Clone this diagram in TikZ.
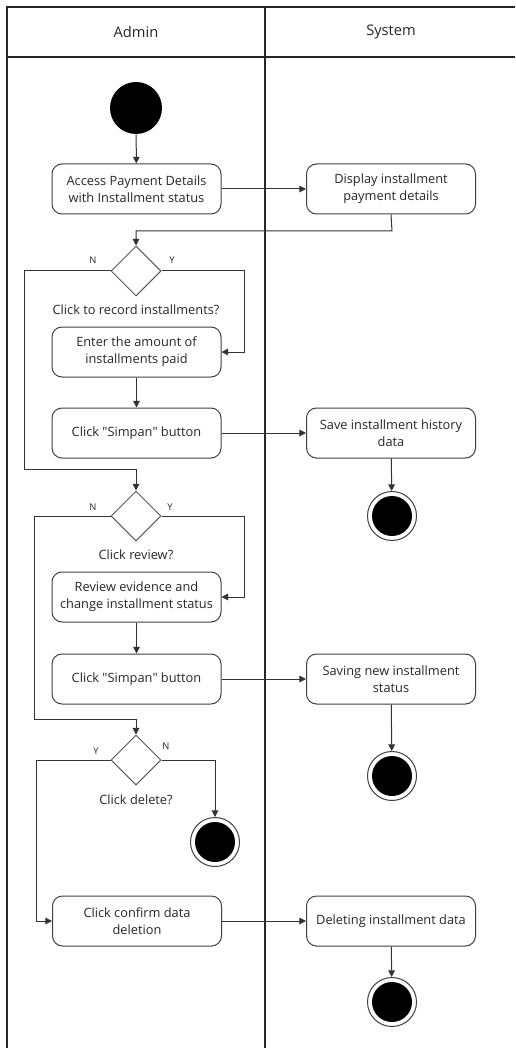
\documentclass[tikz,border=0pt]{standalone}
\usepackage{fontspec}
\setmainfont{Open Sans}
\usetikzlibrary{arrows.meta,shapes.geometric}
\begin{document}
\begin{tikzpicture}[x=0.75pt,y=-0.75pt,
 act/.style={draw=black!75, rounded corners=7.5pt, minimum width=126.75pt, minimum height=37.5pt, align=center, font=\fontsize{9.6}{12.75}\selectfont, text=black!85, inner sep=1pt, line width=0.75pt},
 dec/.style={diamond, draw=black!65, minimum width=37.5pt, minimum height=37.5pt, inner sep=0pt, line width=0.75pt},
 startst/.style={circle, fill=black, minimum size=39pt, inner sep=0pt},
 endst/.style={circle, draw=black!75, fill=white, minimum size=36.75pt, inner sep=0pt, line width=0.75pt, path picture={\fill[black] (path picture bounding box.center) circle (15pt);}},
 flow/.style={draw=black!80, line width=0.75pt, -{Triangle[length=5pt,width=5pt]}},
 lbl/.style={font=\fontsize{9.6}{12}\selectfont, text=black!85, inner sep=0pt},
 yn/.style={font=\fontsize{7}{8}\selectfont, text=black!85, inner sep=0pt},
 lane/.style={draw=black!85, line width=1.1pt},
 head/.style={font=\fontsize{11}{13}\selectfont, text=black!85}
]
\useasboundingbox (0,0) rectangle (515,1048);
% swimlanes
\draw[lane] (7,1048) -- (7,7) -- (515,7);
\draw[lane] (7,57) -- (515,57);
\draw[lane] (265,7) -- (265,1048);
\node[head] (hA) at (136,32) {Admin};
\node[head] (hS) at (391,32) {System};

% nodes
\node[startst] (st) at (136,108) {};
\node[act] (b1) at (136.5,189) {Access Payment Details\\with Installment status};
\node[act] (b2) at (391,189) {Display installment\\payment details};
\node[dec] (d1) at (136,271) {};
\node[lbl] (l1) at (136,310) {Click to record installments?};
\node[act] (b3) at (136.5,352) {Enter the amount of\\installments paid};
\node[act] (b4) at (136.5,433) {Click \textquotedbl Simpan\textquotedbl{} button};
\node[act] (b5s) at (391,433) {Save installment history\\data};
\node[endst] (e1) at (392,516) {};
\node[dec] (d2) at (136,516) {};
\node[lbl] (l2) at (136,555) {Click review?};
\node[act] (b5) at (136.5,597) {Review evidence and\\change installment status};
\node[act] (b6) at (136.5,679) {Click \textquotedbl Simpan\textquotedbl{} button};
\node[act] (b6s) at (391,679) {Saving new installment\\status};
\node[endst] (e2) at (392,776) {};
\node[dec] (d3) at (136,760) {};
\node[lbl] (l3) at (136,800) {Click delete?};
\node[endst] (e3) at (215,842) {};
\node[act] (b7) at (137,921) {Click confirm data\\deletion};
\node[act] (b7s) at (391,921) {Deleting installment data};
\node[endst] (e4) at (392,1002) {};

% labels
\node[yn] (n1l) at (93,260) {N};
\node[yn] (y1l) at (172,260) {Y};
\node[yn] (n2l) at (93,507) {N};
\node[yn] (y2l) at (170,507) {Y};
\node[yn] (y3l) at (96,751) {Y};
\node[yn] (n3l) at (166,746) {N};

% helper coordinates
\coordinate (c1) at (392,231);
\coordinate (n1) at (24,469);
\coordinate (y1) at (244,352);
\coordinate (n2) at (34,719);
\coordinate (y2) at (244,597);
\coordinate (y3) at (36,921);

% connectors
\draw[flow] (st) -- (b1);
\draw[flow] (b1) -- (b2);
\draw[flow] (b2.south) -- (c1) -| (d1.north);
\draw[flow] (d1.east) -| (y1) -- (b3.east);
\draw[flow] (d1.west) -| (n1) -| (d2.north);
\draw[flow] (b3) -- (b4);
\draw[flow] (b4) -- (b5s);
\draw[flow] (b5s) -- (e1);
\draw[flow] (d2.east) -| (y2) -- (b5.east);
\draw[flow] (d2.west) -| (n2) -| (d3.north);
\draw[flow] (b5) -- (b6);
\draw[flow] (b6) -- (b6s);
\draw[flow] (b6s) -- (e2);
\draw[flow] (d3.east) -| (e3.north);
\draw[flow] (d3.west) -| (y3) -- (b7.west);
\draw[flow] (b7) -- (b7s);
\draw[flow] (b7s) -- (e4);
\end{tikzpicture}
\end{document}
